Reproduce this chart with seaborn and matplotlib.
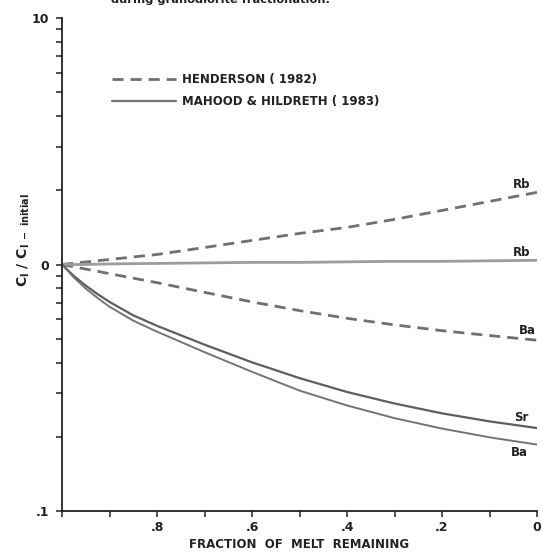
import matplotlib
matplotlib.use("Agg")
import matplotlib.pyplot as plt
import seaborn as sns
import numpy as np
import pandas as pd
from matplotlib.lines import Line2D
from matplotlib.ticker import FixedLocator, FixedFormatter, NullFormatter

# ---- data ----
fraction = [1.0, 0.975, 0.95, 0.925, 0.9, 0.85, 0.8, 0.7, 0.6, 0.5, 0.4, 0.3, 0.2, 0.1, 0.0]

# Henderson (1982) - dashed
henderson_rb = [1.0, 1.012, 1.024, 1.036, 1.048, 1.073, 1.098, 1.172, 1.252, 1.337, 1.414, 1.524, 1.657, 1.803, 1.962]
henderson_ba = [1.0, 0.979, 0.958, 0.938, 0.918, 0.88, 0.844, 0.771, 0.705, 0.650, 0.605, 0.569, 0.539, 0.515, 0.493]

# Mahood & Hildreth (1983) - solid
mahood_rb = [1.0, 1.0, 1.0, 1.003, 1.005, 1.008, 1.01, 1.015, 1.02, 1.02, 1.025, 1.03, 1.03, 1.035, 1.04]
mahood_sr = [1.0, 0.898, 0.821, 0.758, 0.705, 0.622, 0.564, 0.473, 0.401, 0.346, 0.304, 0.273, 0.249, 0.231, 0.217]
mahood_ba = [1.0, 0.886, 0.799, 0.731, 0.674, 0.592, 0.534, 0.441, 0.367, 0.308, 0.268, 0.238, 0.216, 0.199, 0.186]

legend_labels = ["HENDERSON ( 1982)", "MAHOOD & HILDRETH ( 1983)"]
x_ticks = [0.8, 0.6, 0.4, 0.2, 0.0]
x_tick_labels = [".8", ".6", ".4", ".2", "0"]
x_minor = [1.0, 0.9, 0.7, 0.5, 0.3, 0.1]
y_ticks = [0.1, 1.0, 10.0]
y_tick_labels = [".1", "0", "10"]

sns.set_style("ticks")
plt.rcParams["font.family"] = ["DejaVu Sans"]
plt.rcParams["font.weight"] = "bold"
plt.rcParams["mathtext.fontset"] = "custom"
plt.rcParams["mathtext.rm"] = "DejaVu Sans:bold"
plt.rcParams["mathtext.bf"] = "DejaVu Sans:bold"

fig = plt.figure(figsize=(5.42, 5.54), dpi=100)
W, H = 542, 554
ax = fig.add_axes([62 / W, 1 - 511 / H, (537 - 62) / W, (511 - 18) / H])

dash_col = "#707070"
solid_col = "#747474"
ink = "#222222"

series = [
    ("Rb", henderson_rb, "dash", dash_col, 2.0, (-15, 8)),
    ("Ba", henderson_ba, "dash", dash_col, 2.0, (-10, 10)),
    ("Rb", mahood_rb, "solid", "#9c9c9c", 2.0, (-15, 8)),
    ("Sr", mahood_sr, "solid", "#5e5e5e", 1.6, (-16, 11)),
    ("Ba", mahood_ba, "solid", solid_col, 1.4, (-18, -8)),
]

for name, vals, style, col, lw, off in series:
    df = pd.DataFrame({"f": fraction, "c": vals})
    sns.lineplot(data=df, x="f", y="c", ax=ax, color=col, lw=lw,
                 linestyle=(0, (4, 2.5)) if style == "dash" else "-",
                 errorbar=None, sort=False)
    ax.annotate(name, xy=(fraction[-1], vals[-1]), xytext=off,
                textcoords="offset pixels", ha="center", va="center",
                fontsize=8.5, fontweight="bold", color=ink)

ax.set_yscale("log")
ax.set_ylim(0.1, 10)
ax.set_xlim(1.0, 0.0)

ax.yaxis.set_major_locator(FixedLocator(y_ticks))
ax.yaxis.set_major_formatter(FixedFormatter(y_tick_labels))
ax.yaxis.set_minor_locator(FixedLocator(
    [m * d for d in (0.1, 1.0) for m in range(2, 10)]))
ax.yaxis.set_minor_formatter(NullFormatter())
ax.xaxis.set_major_locator(FixedLocator(x_ticks))
ax.xaxis.set_major_formatter(FixedFormatter(x_tick_labels))
ax.xaxis.set_minor_locator(FixedLocator(x_minor))

for a in ("top", "right"):
    ax.spines[a].set_visible(False)
for a in ("left", "bottom"):
    ax.spines[a].set_linewidth(1.3)
    ax.spines[a].set_color(ink)
ax.tick_params(which="both", direction="out", length=4, width=1.1,
               color=ink, labelsize=9, labelcolor=ink)
ax.tick_params(axis="x", pad=3)
ax.tick_params(axis="y", pad=5)

ax.set_xlabel("FRACTION  OF  MELT  REMAINING", fontsize=8.5,
              fontweight="bold", color=ink, labelpad=3)
ax.set_ylabel(r"C$_\mathrm{l}$ / C$_\mathrm{l\ -\ initial}$", fontsize=10,
              fontweight="bold", color=ink)
ax.yaxis.set_label_coords(-0.064, 0.55)

handles = [Line2D([], [], color=dash_col, lw=2.0, linestyle=(0, (4, 2.5))),
           Line2D([], [], color=solid_col, lw=1.6)]
leg = ax.legend(handles, legend_labels, loc="upper left",
                bbox_to_anchor=((112 - 62) / 475, (511 - 73) / 493),
                frameon=False, fontsize=8.5, handlelength=5.4,
                handletextpad=0.55, labelspacing=0.75, borderpad=0,
                borderaxespad=0)
for t in leg.get_texts():
    t.set_fontweight("bold")
    t.set_color(ink)

fig.text(0.406, 1.0, "during granodiorite fractionation.", ha="center",
         va="center", fontsize=8.2, fontweight="bold", color=ink)

fig.savefig("out.png", dpi=100)
